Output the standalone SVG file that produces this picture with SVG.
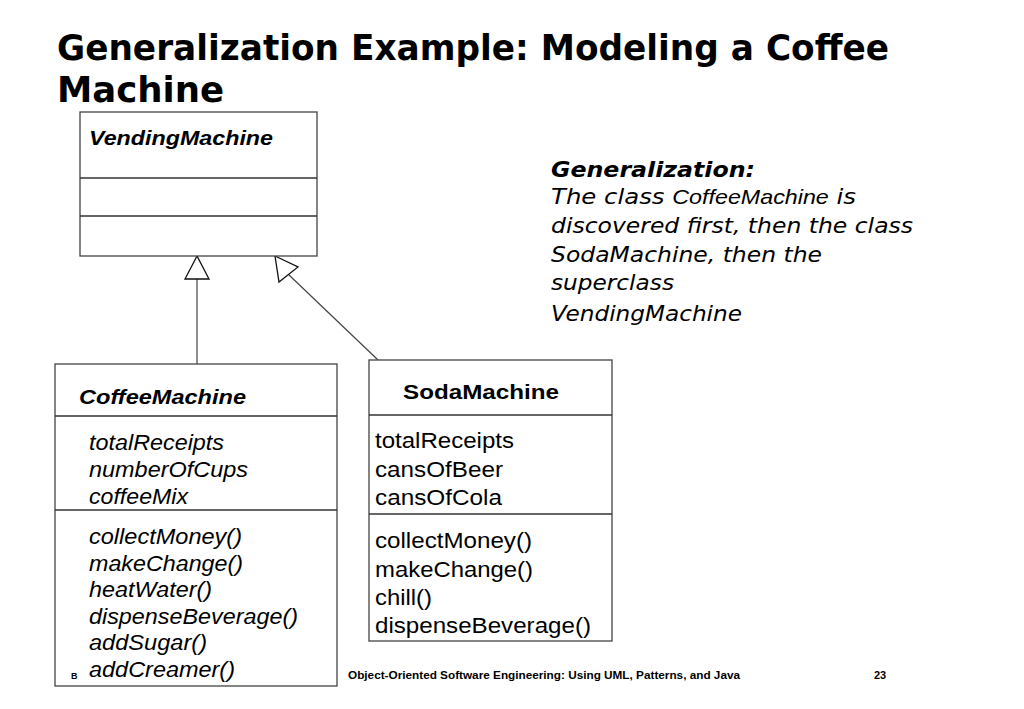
<svg xmlns="http://www.w3.org/2000/svg" width="1024" height="709" viewBox="0 0 1024 709">
<style>
.box{fill:#fff;stroke:#444;stroke-width:1.3}
.div{stroke:#333;stroke-width:1.3}
.h{font-family:"Liberation Sans",Arial,sans-serif}
.v{font-family:"DejaVu Sans",Verdana,sans-serif}
.ital{font-style:italic}
.tri{fill:#fff;stroke:#111;stroke-width:1.3}
.conn{stroke:#444;stroke-width:1.2;fill:none}
</style>
<rect width="1024" height="709" fill="#fff"/>
<g id="title">
<text class="v" x="57" y="60" font-size="35" font-weight="bold" fill="#000" textLength="832" lengthAdjust="spacingAndGlyphs">Generalization Example: Modeling a Coffee</text>
<text class="v" x="57" y="102" font-size="35" font-weight="bold" fill="#000" textLength="167" lengthAdjust="spacingAndGlyphs">Machine</text>
</g>
<g id="note" class="v ital" font-size="22" fill="#000">
<text x="551" y="177" font-weight="bold" textLength="204" lengthAdjust="spacingAndGlyphs">Generalization:</text>
<text x="551" y="204" textLength="305" lengthAdjust="spacingAndGlyphs">The class <tspan class="h" font-size="21">CoffeeMachine</tspan> is</text>
<text x="551" y="233" textLength="362" lengthAdjust="spacingAndGlyphs">discovered first, then the class</text>
<text x="551" y="262" textLength="271" lengthAdjust="spacingAndGlyphs">SodaMachine, then the</text>
<text x="551" y="290" textLength="123" lengthAdjust="spacingAndGlyphs">superclass</text>
<text x="551" y="321" textLength="191" lengthAdjust="spacingAndGlyphs">VendingMachine</text>
</g>
<g id="connectors">
<line class="conn" x1="197" y1="279" x2="197" y2="364"/>
<polygon class="tri" points="197,256 185,279 209,279"/>
<line class="conn" x1="288" y1="274" x2="378" y2="360"/>
<polygon class="tri" points="275,256 279,282 298,267"/>
</g>
<g id="VendingMachine">
<rect class="box" x="80" y="112" width="237" height="144"/>
<line class="div" x1="80" y1="178" x2="317" y2="178"/>
<line class="div" x1="80" y1="216" x2="317" y2="216"/>
<text class="h ital" x="89" y="145" font-size="21" font-weight="bold" textLength="184" lengthAdjust="spacingAndGlyphs">VendingMachine</text>
</g>
<g id="CoffeeMachine">
<rect class="box" x="55" y="364" width="282" height="322"/>
<line class="div" x1="55" y1="416" x2="337" y2="416"/>
<line class="div" x1="55" y1="510" x2="337" y2="510"/>
<text class="h ital" x="79" y="404" font-size="21" font-weight="bold" textLength="167" lengthAdjust="spacingAndGlyphs">CoffeeMachine</text>
<g class="h ital" font-size="22">
<text x="89" y="450" textLength="135" lengthAdjust="spacingAndGlyphs">totalReceipts</text>
<text x="89" y="477" textLength="159" lengthAdjust="spacingAndGlyphs">numberOfCups</text>
<text x="89" y="504" textLength="99" lengthAdjust="spacingAndGlyphs">coffeeMix</text>
<text x="89" y="544" textLength="153" lengthAdjust="spacingAndGlyphs">collectMoney()</text>
<text x="89" y="571" textLength="154" lengthAdjust="spacingAndGlyphs">makeChange()</text>
<text x="89" y="597" textLength="123" lengthAdjust="spacingAndGlyphs">heatWater()</text>
<text x="89" y="624" textLength="209" lengthAdjust="spacingAndGlyphs">dispenseBeverage()</text>
<text x="89" y="650" textLength="118" lengthAdjust="spacingAndGlyphs">addSugar()</text>
<text x="89" y="677" textLength="146" lengthAdjust="spacingAndGlyphs">addCreamer()</text>
</g>
</g>
<g id="SodaMachine">
<rect class="box" x="369" y="360" width="243" height="281"/>
<line class="div" x1="369" y1="415" x2="612" y2="415"/>
<line class="div" x1="369" y1="514" x2="612" y2="514"/>
<text class="h" x="403" y="399" font-size="21" font-weight="bold" textLength="156" lengthAdjust="spacingAndGlyphs">SodaMachine</text>
<g class="h" font-size="22">
<text x="375" y="448" textLength="139" lengthAdjust="spacingAndGlyphs">totalReceipts</text>
<text x="375" y="477" textLength="128" lengthAdjust="spacingAndGlyphs">cansOfBeer</text>
<text x="375" y="505" textLength="127" lengthAdjust="spacingAndGlyphs">cansOfCola</text>
<text x="375" y="548" textLength="157" lengthAdjust="spacingAndGlyphs">collectMoney()</text>
<text x="375" y="577" textLength="158" lengthAdjust="spacingAndGlyphs">makeChange()</text>
<text x="375" y="605" textLength="57" lengthAdjust="spacingAndGlyphs">chill()</text>
<text x="375" y="633" textLength="216" lengthAdjust="spacingAndGlyphs">dispenseBeverage()</text>
</g>
</g>
<g id="footer" class="h" font-weight="bold" fill="#000">
<text x="71" y="679" font-size="9">B</text>
<text x="348" y="679" font-size="11" textLength="392" lengthAdjust="spacingAndGlyphs">Object-Oriented Software Engineering: Using UML, Patterns, and Java</text>
<text x="874" y="679" font-size="11">23</text>
</g>
</svg>
